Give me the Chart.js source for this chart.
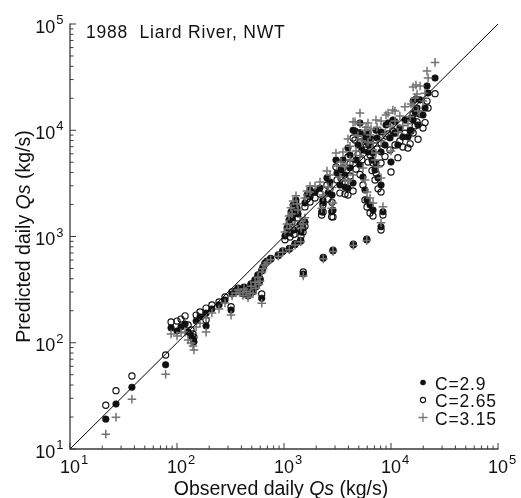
<!DOCTYPE html>
<html>
<head>
<meta charset="utf-8">
<script src="https://cdn.jsdelivr.net/npm/chart.js@4.4.1/dist/chart.umd.min.js"></script>
<style>
    html, body { margin: 0; padding: 0; background: #fff; }
    #wrap { width: 521px; height: 498px; position: relative; }
</style>
</head>
<body>
<div id="wrap"><canvas id="qsChart"></canvas></div>
<script>
//..observed daily Qs (kg/s), one entry per day
const observed = [
    21.6, 26.9, 37.9, 78.3,
    88, 100, 109, 119, 127, 135, 141, 144, 151, 164, 187, 187, 212, 247, 281, 320, 327,
    356, 388, 414, 442, 461, 492, 513, 536, 571, 597, 622, 619, 664,
    372, 423, 481, 547, 583, 637, 694,
    751, 885, 973, 1122, 1268, 1432, 1514, 2328, 2871, 4446, 5935,
    1021, 1067, 1115, 1163, 1216, 1294, 1352, 1412, 1507, 1570, 1240, 1138, 1641, 1750, 2311, 2249, 2790,
    1188, 1324, 1442,
    6370, 5970, 6790, 8410, 8070,
    25800, 21700, 22200, 18700, 17100, 16100, 16800, 17500, 16100, 14400, 12900, 10400, 10900, 9380, 8980,
    10900, 10000, 8070, 6790, 6100, 6370, 7240, 7090, 8070, 7240, 6100, 5130, 4610, 3960, 3560, 4140, 3410,
    4420, 3960, 3130, 2520, 2170, 1950, 2580, 2870, 2320, 3720, 5470, 8070, 7400, 6500, 5840, 4420, 4710,
    5350, 3060, 2690, 1750, 1570, 12100, 15400, 5130, 5710, 19900,
    9790, 11600, 5130, 3720, 4920, 6640, 8790, 13500, 3330, 5710, 20800, 17900, 4140, 2810, 7570, 15100
];

//..predicted daily Qs for C = 2.9 (filled dots)
const predC29 = [
    19.1, 26.5, 38.1, 62.1,
    138, 129, 141, 150, 126, 116, 108, 102, 160, 175, 190, 144, 208, 227, 252, 203, 288,
    301, 307, 288, 314, 275, 350, 301, 381, 425, 390, 473, 262, 551,
    320, 327, 301, 335, 365, 506, 576,
    610, 659, 719, 758, 838, 902, 443, 623, 731, 831, 927,
    1012, 1202, 1429, 1702, 1978, 2208, 1630, 1282, 1202, 1370, 1151, 1079, 2460, 2740, 2210, 1710, 1710,
    1493, 1853, 1102,
    1978, 2208, 1775, 1710, 1236,
    31000, 26100, 22400, 19300, 19700, 18800, 14900, 16200, 12500, 8650, 8650, 12500, 12000, 11700, 11200,
    9420, 5020, 6240, 6110, 6240, 7260, 4920, 4230, 3050, 10000, 9420, 9420, 9840, 6810, 5250, 4420, 4230,
    3190, 2860, 3960, 3560, 2860, 2620, 2570, 1770, 2070, 2920, 3630, 9640, 8460, 8280, 8650, 10000, 5250,
    6520, 5250, 3260, 2350, 2070, 10500, 13000, 11700, 8090, 13900,
    8460, 7260, 4710, 3790, 7260, 5250, 7260, 12500, 3050, 2740, 16200, 11200, 5850, 2460, 3560, 10000
];

//..predicted daily Qs for C = 2.65 (open circles)
const predC265 = [
    25.8, 35.4, 48.6, 76.7,
    157, 160, 167, 179, 147, 132, 121, 113, 182, 195, 212, 164, 227, 242, 270, 218, 301,
    307, 315, 296, 322, 282, 358, 310, 390, 434, 398, 482, 288, 560,
    327, 334, 308, 343, 373, 515, 586,
    622, 672, 733, 773, 855, 920, 463, 636, 745, 848, 945,
    930, 1100, 1310, 1560, 1810, 2020, 1490, 1170, 1100, 1250, 1050, 990, 2250, 2510, 1978, 1593, 1535,
    1370, 1700, 1010,
    1663, 1897, 1560, 1593, 1151,
    22100, 18800, 16200, 14200, 14500, 14200, 11000, 12000, 9420, 6810, 6950, 9840, 9420, 9230, 8830,
    7260, 4050, 4920, 4920, 5020, 5850, 3960, 3400, 2620, 8090, 7590, 7760, 8090, 5600, 4420, 3710, 3560,
    2680, 2460, 3400, 3050, 2510, 2300, 2250, 1530, 1700, 2510, 3050, 7590, 6660, 6660, 6950, 8460, 4320,
    5250, 4510, 2800, 2110, 1900, 7920, 9840, 9420, 6520, 10500,
    6520, 5520, 3830, 3160, 5920, 4170, 5650, 9390, 2560, 2210, 11800, 8230, 4830, 2100, 2810, 7450
];

//..predicted daily Qs for C = 3.15 (grey crosses)
const predC315 = [
    13.8, 19.9, 29.4, 50.5,
    121, 116, 124, 126, 106, 99.5, 93, 85.5, 141, 153, 171, 126, 191, 208, 237, 182, 275,
    294, 296, 278, 305, 266, 341, 290, 372, 414, 380, 463, 235, 540,
    313, 320, 293, 326, 356, 496, 566,
    604, 652, 712, 750, 830, 893, 425, 616, 724, 823, 918,
    1100, 1310, 1560, 1860, 2160, 2420, 1780, 1400, 1310, 1500, 1260, 1180, 2680, 2990, 2461, 1840, 1840,
    1630, 2020, 1200,
    2302, 2625, 2066, 1910, 1349,
    43500, 36100, 31000, 26100, 26700, 25500, 20100, 21900, 16900, 11500, 11000, 15500, 15200, 14500, 13900,
    12200, 6380, 7920, 7590, 7760, 9020, 6110, 5250, 3560, 12500, 11700, 11500, 12000, 8280, 6240, 5250, 5020,
    3800, 3330, 4620, 4140, 3260, 2990, 2920, 2070, 2350, 3400, 4420, 12200, 10700, 10300, 10700, 12000, 6380,
    7920, 6110, 3800, 2620, 2300, 13600, 17700, 14500, 10000, 18800,
    10970, 9540, 5800, 4550, 8900, 6600, 9340, 16600, 3630, 3400, 22300, 15200, 7080, 2890, 4520, 13400
];

const oneToOne = [10, 100000];
const decades = [10, 100, 1000, 10000, 100000];
const decadeExp = ['1', '2', '3', '4', '5'];
const seriesLabels = ['C=2.9', 'C=2.65', 'C=3.15'];

const FONT = "'Liberation Sans', Arial, Helvetica, sans-serif";

function toPoints(ys) {
    return observed.map((x, i) => ({ x: x, y: ys[i] }));
}

//..draw a "10^n" label; anchor is the tick position
function drawPower(ctx, exp, x, baseline, align) {
    ctx.font = `18px ${FONT}`;
    const wBase = ctx.measureText('10').width;
    ctx.font = `13px ${FONT}`;
    const wExp = ctx.measureText(exp).width;
    let left;
    if (align === 'center') {
        left = x - wBase / 2;
    } else {
        left = x - wExp - 1 - wBase;
    }
    ctx.textAlign = 'left';
    ctx.font = `18px ${FONT}`;
    ctx.fillText('10', left, baseline);
    ctx.font = `13px ${FONT}`;
    ctx.fillText(exp, left + wBase + 1, baseline - 8.5);
}

//..text made of normal / italic pieces, centred on x
function drawMixed(ctx, parts, x, y, size) {
    let total = 0;
    parts.forEach(p => {
        ctx.font = `${p.italic ? 'italic ' : ''}${size}px ${FONT}`;
        p.w = ctx.measureText(p.text).width;
        total += p.w;
    });
    let cx = x - total / 2;
    ctx.textAlign = 'left';
    parts.forEach(p => {
        ctx.font = `${p.italic ? 'italic ' : ''}${size}px ${FONT}`;
        ctx.fillText(p.text, cx, y);
        cx += p.w;
    });
}

const axesPlugin = {
    id: 'qsAxes',
    afterDraw(chart) {
        const { ctx, chartArea: a, scales } = chart;
        const sx = scales.x, sy = scales.y;
        ctx.save();

        //..axis lines (left and bottom only)
        ctx.strokeStyle = '#3a3a3a';
        ctx.lineWidth = 1.3;
        ctx.beginPath();
        ctx.moveTo(a.left, a.top - 0.5);
        ctx.lineTo(a.left, a.bottom);
        ctx.lineTo(a.right + 0.5, a.bottom);
        ctx.stroke();

        //..inward ticks, majors and minors
        ctx.lineWidth = 1;
        ctx.beginPath();
        decades.forEach((d, i) => {
            const steps = i < decades.length - 1 ? 9 : 1;
            for (let m = 1; m <= steps; m++) {
                const v = d * m;
                const len = m === 1 ? 6 : 3.5;
                const px = sx.getPixelForValue(v);
                ctx.moveTo(px, a.bottom);
                ctx.lineTo(px, a.bottom - len);
                const py = sy.getPixelForValue(v);
                ctx.moveTo(a.left, py);
                ctx.lineTo(a.left + len, py);
            }
        });
        ctx.stroke();

        //..tick labels
        ctx.fillStyle = '#111';
        ctx.textBaseline = 'alphabetic';
        decades.forEach((d, i) => {
            drawPower(ctx, decadeExp[i], sx.getPixelForValue(d), a.bottom + 23.5, 'center');
            drawPower(ctx, decadeExp[i], a.left - 6.5, sy.getPixelForValue(d) + 8.5, 'right');
        });

        //..axis titles
        drawMixed(ctx, [
            { text: 'Observed daily ' }, { text: 'Qs', italic: true }, { text: ' (kg/s)' }
        ], (a.left + a.right) / 2 - 3, 494.5, 19.5);

        ctx.save();
        ctx.translate(29.5, (a.top + a.bottom) / 2);
        ctx.rotate(-Math.PI / 2);
        drawMixed(ctx, [
            { text: 'Predicted daily ' }, { text: 'Qs', italic: true }, { text: ' (kg/s)' }
        ], 0, 0, 19.5);
        ctx.restore();

        //..title inside plot
        ctx.font = `17.5px ${FONT}`;
        ctx.letterSpacing = '0.8px';
        ctx.textAlign = 'left';
        ctx.fillText('1988  Liard River, NWT', 86, 37.5);

        //..legend, bottom right
        ctx.font = `17.5px ${FONT}`;
        ctx.letterSpacing = '0.8px';
        const legX = 423, txtX = 435, base0 = 389.5, step = 17.5;
        seriesLabels.forEach((lbl, i) => {
            const by = base0 + i * step;
            const cy = by - 7;
            ctx.fillStyle = '#111';
            ctx.fillText(lbl, txtX, by);
            if (i === 0) {
                ctx.beginPath();
                ctx.arc(legX, cy, 2.8, 0, Math.PI * 2);
                ctx.fill();
            } else if (i === 1) {
                ctx.strokeStyle = '#111';
                ctx.lineWidth = 1.1;
                ctx.beginPath();
                ctx.arc(legX, cy, 2.6, 0, Math.PI * 2);
                ctx.stroke();
            } else {
                ctx.strokeStyle = '#777';
                ctx.lineWidth = 1.3;
                ctx.beginPath();
                ctx.moveTo(legX - 4.5, cy); ctx.lineTo(legX + 4.5, cy);
                ctx.moveTo(legX, cy - 4.5); ctx.lineTo(legX, cy + 4.5);
                ctx.stroke();
            }
        });
        ctx.letterSpacing = '0px';
        ctx.restore();
    }
};

document.addEventListener('DOMContentLoaded', function () {
    new Chart(document.getElementById('qsChart'), {
        type: 'scatter',
        data: {
            datasets: [
                {
                    type: 'line',
                    label: '1:1',
                    data: oneToOne.map(v => ({ x: v, y: v })),
                    borderColor: '#000',
                    borderWidth: 1,
                    pointRadius: 0,
                    showLine: true,
                    fill: false,
                    order: 0
                },
                {
                    label: seriesLabels[2],
                    data: toPoints(predC315),
                    pointStyle: 'cross',
                    pointRadius: 4.3,
                    borderColor: '#737373',
                    borderWidth: 1.5,
                    order: 1
                },
                {
                    label: seriesLabels[0],
                    data: toPoints(predC29),
                    pointStyle: 'circle',
                    pointRadius: 3.3,
                    backgroundColor: '#111',
                    borderColor: '#111',
                    borderWidth: 0.6,
                    order: 2
                },
                {
                    label: seriesLabels[1],
                    data: toPoints(predC265),
                    pointStyle: 'circle',
                    pointRadius: 3.1,
                    backgroundColor: 'rgba(255,255,255,0)',
                    borderColor: '#111',
                    borderWidth: 1.15,
                    order: 3
                }
            ]
        },
        options: {
            responsive: true,
            maintainAspectRatio: false,
            animation: false,
            layout: { padding: { left: 70, right: 23, top: 24, bottom: 49 } },
            plugins: {
                legend: { display: false },
                tooltip: { enabled: false }
            },
            scales: {
                x: { type: 'logarithmic', min: 10, max: 100000, display: false },
                y: { type: 'logarithmic', min: 10, max: 100000, display: false }
            }
        },
        plugins: [axesPlugin]
    });
});
</script>
</body>
</html>
